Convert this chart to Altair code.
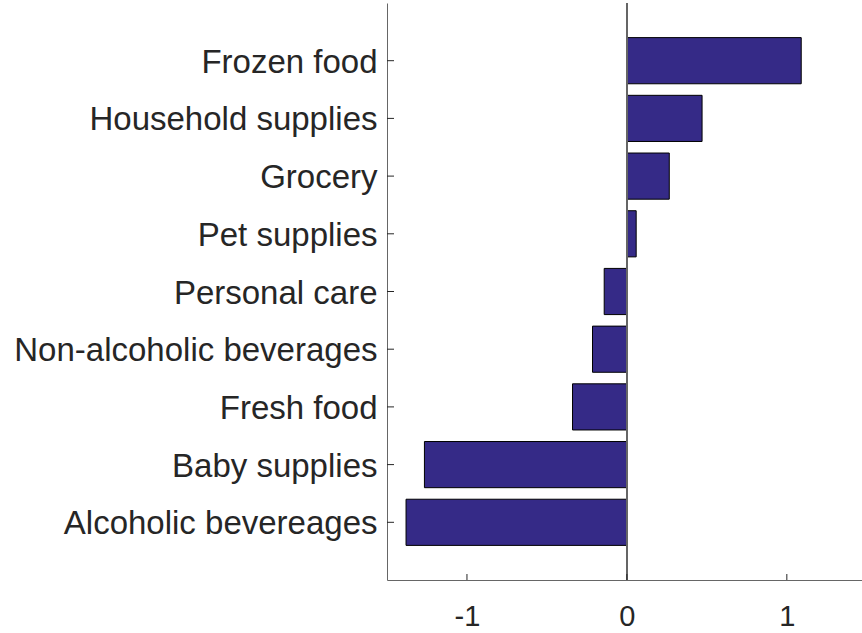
import altair as alt
import pandas as pd

# Categories listed top to bottom, with their values
categories = [
    "Frozen food",
    "Household supplies",
    "Grocery",
    "Pet supplies",
    "Personal care",
    "Non-alcoholic beverages",
    "Fresh food",
    "Baby supplies",
    "Alcoholic bevereages",
]
values = [1.09, 0.47, 0.265, 0.058, -0.142, -0.215, -0.34, -1.266, -1.381]
x_ticks = [-1, 0, 1]

df = pd.DataFrame({"category": categories, "value": values})
ticks_df = pd.DataFrame({"t": x_ticks})

W, H = 475, 577
FONT = "Liberation Sans"
BAR = "#352A87"
AXIS = "#666666"
TEXT = "#262626"

x_scale = alt.Scale(domain=[-1.5, 1.47], nice=False, zero=False)
y_scale = alt.Scale(domain=categories, paddingInner=0.2, paddingOuter=0.6)

bars = alt.Chart(df).mark_bar(
    fill=BAR, stroke="black", strokeWidth=1, opacity=1
).encode(
    x=alt.X("value:Q", scale=x_scale, title=None,
            axis=alt.Axis(values=x_ticks, ticks=False, tickSize=0,
                          labelExpr="replace(format(datum.value, 'd'), '\u2212', '-')",
                          labelFontSize=29, labelPadding=22, labelColor=TEXT,
                          labelFont=FONT, domainColor=AXIS, domainWidth=1,
                          grid=False)),
    x2=alt.datum(0),
    y=alt.Y("category:N", scale=y_scale, sort=categories, title=None,
            axis=alt.Axis(ticks=False, tickSize=0, labelFontSize=33,
                          labelPadding=10, labelOffset=2, labelLimit=0,
                          labelColor=TEXT, labelFont=FONT,
                          domainColor=AXIS, domainWidth=1, grid=False)),
)

# Vertical line at zero
zero_line = alt.Chart(df).mark_rule(color=AXIS, strokeWidth=1.2).encode(
    x=alt.datum(0, scale=x_scale)
)

# Inward-facing ticks on the category axis
y_ticks = alt.Chart(df).mark_rule(color=TEXT, strokeWidth=1).encode(
    y=alt.Y("category:N", scale=y_scale, sort=categories),
    x=alt.value(0),
    x2=alt.value(7),
)

# Inward-facing ticks on the value axis
x_tick_marks = alt.Chart(ticks_df).mark_rule(color=TEXT, strokeWidth=1).encode(
    x=alt.X("t:Q", scale=x_scale),
    y=alt.value(H),
    y2=alt.value(H - 6),
)

chart = alt.layer(bars, zero_line, y_ticks, x_tick_marks).properties(
    width=W,
    height=H,
    autosize=alt.AutoSizeParams(type="none"),
    padding={"left": 387, "top": 3, "right": 0, "bottom": 50},
    background="white",
).configure_view(stroke=None)

chart.save("out.html", embed_options={"renderer": "svg", "actions": False})
